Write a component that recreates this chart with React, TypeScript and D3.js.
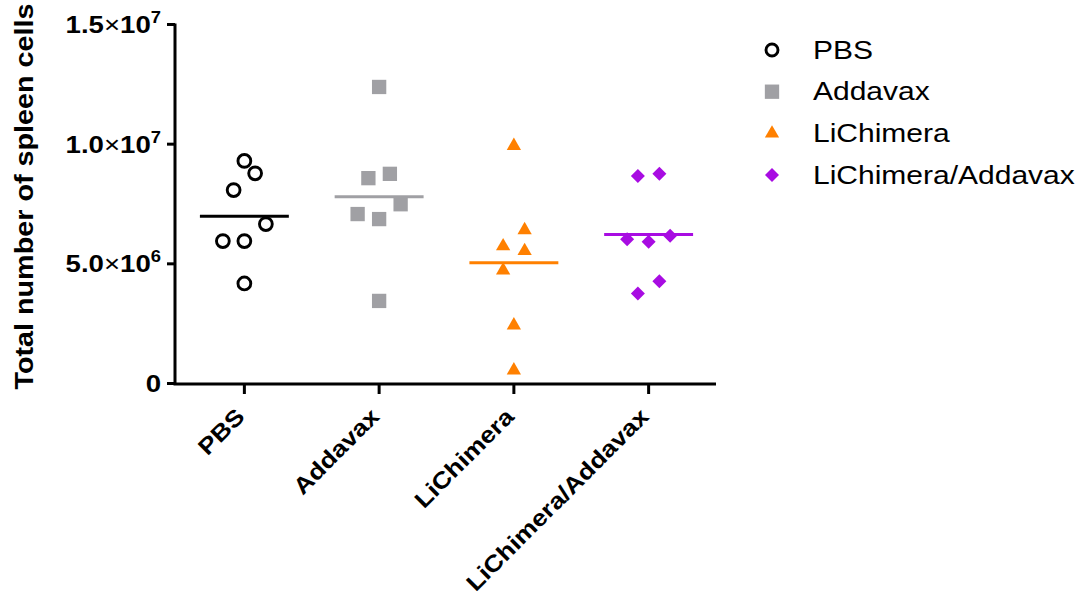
import React from "react";
import * as d3 from "d3";

// groups on the x axis
const groups = ["PBS", "Addavax", "LiChimera", "LiChimera/Addavax"];

// values (cells per spleen)
const pbsValues = [9.3e6, 8.78e6, 8.08e6, 6.66e6, 5.95e6, 5.95e6, 4.18e6];
const addavaxValues = [12.39e6, 8.58e6, 8.76e6, 7.49e6, 7.08e6, 6.87e6, 3.45e6];
const liChimeraValues = [9.93e6, 6.41e6, 5.74e6, 5.54e6, 4.73e6, 2.43e6, 0.55e6];
const liChimeraAddavaxValues = [8.67e6, 8.76e6, 6.03e6, 5.92e6, 6.17e6, 3.76e6, 4.27e6];

const yTicks = [0, 5e6, 1e7, 1.5e7];
const yTickMantissa = ["0", "5.0", "1.0", "1.5"];
const yTickExponent = ["", "6", "7", "7"];

const colors = ["#000000", "#a0a0a4", "#ff8000", "#a80ce2"];

const W = 1077;
const H = 596;
const FONT = "'Liberation Sans', Arial, Helvetica, sans-serif";
const SX = 1.15; // the source font is a bit wider than Arial

const x = d3.scaleBand<string>().domain(groups).range([177, 716]);
const y = d3.scaleLinear().domain([0, 1.5e7]).range([383.5, 24.5]);

const symbols = [d3.symbolCircle, d3.symbolSquare, d3.symbolTriangle, d3.symbolSquare];
const symbolSizes = [133, 205, 88, 98];

// Prism-like scatter: points close in y share a row and are spread around the centre
function dodge(values: number[], threshold = 20, step = 10.75) {
  const order = values.map((_, i) => i).sort((a, b) => values[a] - values[b]);
  const rows: number[][] = [];
  let cur: number[] = [];
  order.forEach(i => {
    if (cur.length && y(values[cur[0]]) - y(values[i]) > threshold) {
      rows.push(cur);
      cur = [];
    }
    cur.push(i);
  });
  if (cur.length) rows.push(cur);
  const off = new Array(values.length).fill(0);
  rows.forEach(row => {
    const n = row.length;
    row.forEach((idx, k) => {
      let slot;
      if (n % 2 === 1) {
        slot = k === 0 ? 0 : (k % 2 === 1 ? -1 : 1) * 2 * Math.ceil(k / 2);
      } else {
        slot = (k % 2 === 0 ? -1 : 1) * (2 * Math.floor(k / 2) + 1);
      }
      off[idx] = slot * step;
    });
  });
  return off;
}

const Marker = ({ i, cx, cy, legend }: { i: number; cx: number; cy: number; legend?: boolean }) => {
  const path = d3.symbol().type(symbols[i]).size(symbolSizes[i])() as string;
  if (i === 0) {
    return <circle cx={cx} cy={cy} r={legend ? 6 : 6.4} fill="none" stroke={colors[0]} strokeWidth={2.9} />;
  }
  const rot = i === 3 ? 45 : 0;
  return <path d={path} fill={colors[i]} transform={`translate(${cx},${cy}) rotate(${rot})`} />;
};

export default function App() {
  const series = [pbsValues, addavaxValues, liChimeraValues, liChimeraAddavaxValues];
  const bw = x.bandwidth();

  return (
    <svg width={W} height={H} style={{ position: "absolute", left: 0, top: 0, background: "#fff" }}>
      <rect width={W} height={H} fill="#fff" />

      {/* y axis */}
      <line x1={175} x2={175} y1={y(1.5e7) - 1} y2={y(0) + 1.5} stroke="#000" strokeWidth={3} />
      {yTicks.map((t, i) => (
        <g key={t}>
          <line x1={167} x2={175} y1={y(t)} y2={y(t)} stroke="#000" strokeWidth={3} />
          <text
            transform={`translate(161,${y(t) + 8.5}) scale(${SX},1)`}
            textAnchor="end"
            fontFamily={FONT}
            fontWeight="bold"
            fontSize={24}
          >
            {yTickMantissa[i]}
            {yTickExponent[i] && (
              <>
                <tspan fontWeight="normal">×</tspan>
                <tspan>10</tspan>
                <tspan dy={-10} fontSize={16}>{yTickExponent[i]}</tspan>
              </>
            )}
          </text>
        </g>
      ))}
      <text
        transform={`translate(33,196.5) rotate(-90) scale(${SX},1)`}
        textAnchor="middle"
        fontFamily={FONT}
        fontWeight="bold"
        fontSize={25}
      >
        Total number of spleen cells
      </text>

      {/* x axis */}
      <line x1={173.5} x2={716} y1={384} y2={384} stroke="#000" strokeWidth={3} />
      {groups.map(g => {
        const cx = (x(g) as number) + bw / 2;
        return (
          <g key={g}>
            <line x1={cx} x2={cx} y1={384} y2={394} stroke="#000" strokeWidth={3} />
            <text
              transform={`translate(${cx + 1.5},418) rotate(-45) scale(${SX},1)`}
              textAnchor="end"
              fontFamily={FONT}
              fontWeight="bold"
              fontSize={23}
            >
              {g}
            </text>
          </g>
        );
      })}

      {/* points and mean lines */}
      {series.map((vals, gi) => {
        const cx = (x(groups[gi]) as number) + bw / 2;
        const offs = dodge(vals);
        const mean = d3.mean(vals) as number;
        return (
          <g key={gi}>
            {vals.map((v, j) => (
              <Marker key={j} i={gi} cx={cx + offs[j]} cy={y(v)} />
            ))}
            <line
              x1={cx - bw * 0.33}
              x2={cx + bw * 0.33}
              y1={y(mean)}
              y2={y(mean)}
              stroke={colors[gi]}
              strokeWidth={3}
            />
          </g>
        );
      })}

      {/* legend */}
      {groups.map((g, i) => (
        <g key={g}>
          <Marker i={i} cx={772} cy={50 + i * 41.7} legend />
          <text
            transform={`translate(813,${58.5 + i * 41.7}) scale(1.2,1)`}
            fontFamily={FONT}
            fontSize={25}
          >
            {g}
          </text>
        </g>
      ))}
    </svg>
  );
}
